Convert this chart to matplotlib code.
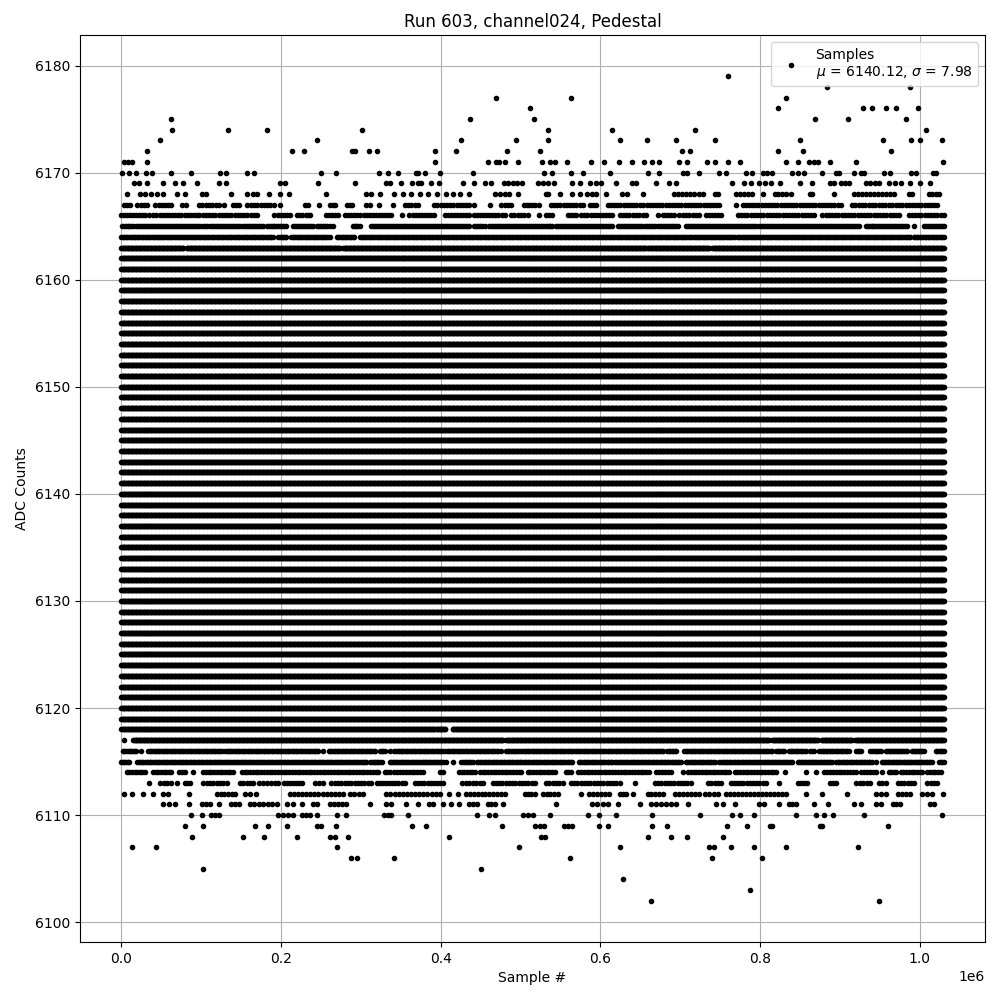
import numpy as np
import matplotlib
matplotlib.use("Agg")
import matplotlib.pyplot as plt

# ---------------- data (x positions in thousands of samples) ----------------
# Each level lists the runs of samples (start_k, end_k) where it is occupied;
# single values are isolated samples.
dense_levels = list(range(6119, 6163))      # levels occupied for the whole run
dense_run = (0, 1030)

sparse_levels = [6179, 6178, 6177, 6176, 6175, 6174, 6173, 6172, 6171, 6170,
                 6169, 6168, 6167, 6166, 6165, 6164, 6163,
                 6118, 6117, 6116, 6115, 6114, 6113, 6112, 6111, 6110,
                 6109, 6108, 6107, 6106, 6105, 6104, 6103, 6102]

# typical spacing (k-samples) between neighbouring samples inside a run
sparse_spacing = [6, 6, 6, 6, 6, 6, 6, 6, 6, 6,
                  6, 5, 4, 4, 2.5, 2, 1,
                  1, 1, 2, 2, 3.5, 4, 5, 6, 6,
                  6, 6, 6, 6, 6, 6, 6, 6]

sparse_runs = [
    [760],
    [884, 988],
    [469, 563, 832],
    [512, 822, 929, 940, 958, 970, 998],
    [62, 437, 517, 869, 910, 982],
    [64, 134, 182, 302, 534, 615, 719, 1008],
    [49, 245, 425, 494, 534, 624, 658, 695, 744, 850, 954, 989, 1000, 1028],
    [32, 214, 229, 289, 293, 310, 320, 393, 419, 483, 524, 702, 712, 822, 854, 964],
    [3, 8, 13, 33, 393, 459, 469, 473, 481, 497, 527, 537, 543, 558, 588, 605,
     623, 640, 654, 665, 673, 698, 708, 734, 743, 760, 775, 832, 847, 861, 868,
     872, 888, 920, 1029],
    [1, 10, 18, 31, 39, 63, 88, 124, 131, 157, 166, 250, 269, 323, 334, 347, 369,
     372, 380, 399, 440, 530, 539, 563, 578, 612, 659, 673, 703, 708, 724, 748,
     757, (782, 790), (803, 808), 815, (840, 847), 855, 877, (895, 899), 917,
     (926, 930), (955, 963), (989, 995), (1016, 1020)],
    [16, 22, 33, 52, 67, 78, 95, 122, 131, 199, 205, 247, 293, 332, 336, 350, 364,
     372, 376, 388, 398, 428, 442, 456, 463, 479, 484, 490, 495, 502, 522, 528,
     534, 542, 564, 575, 587, 595, 601, 620, 639, 645, 670, 686, 695, 765, 780,
     788, 798, 806, 813, 825, 850, 865, (888, 892), (901, 911), (932, 949),
     (961, 976), 988, 1000, 1013],
    [7, 23, 30, 38, 45, 52, 70, 80, 101, 106, 138, 157, 165, 170, 185, 199, 210,
     257, 307, 313, 324, 342, 353, 363, 374, 384, 395, 407, 415, 424, 435, 468,
     474, 480, 486, 497, 532, 535, 550, 564, 574, 583, 590, 595, 607, 627, 633,
     653, (692, 728), (743, 747), (770, 790), 804, (818, 832), 838, 862, 865, 893,
     (918, 968), 986, 990, (1011, 1024)],
    [(3, 11), (20, 33), (43, 63), (76, 81), (97, 123), 129, (140, 148), (158, 191),
     199, (230, 234), 248, (262, 268), (283, 289), (306, 311), 323, 340, (355, 372),
     (392, 436), 442, 462, (476, 488), (504, 518), 523, (538, 578), (587, 595),
     (609, 645), (650, 749), 770, (778, 901), (915, 965), (970, 1022)],
    [(0, 15), (19, 30), (35, 53), (56, 95), (98, 118), (122, 170), (192, 212),
     (220, 226), (231, 237), (257, 272), (280, 288), (292, 338), 351, (361, 392),
     (405, 436), (442, 480), (488, 509), 523, (532, 540), (559, 570), (576, 615),
     (624, 657), 672, (678, 692), (699, 724), (732, 751), (772, 868), (878, 974),
     (986, 1030)],
    [(1, 15), (18, 99), (103, 149), (153, 178), (182, 197), (199, 207), (215, 240),
     (245, 261), 265, (290, 299), (313, 436), (442, 455), (461, 540), (545, 615),
     (622, 668), (672, 697), (707, 795), (799, 924), (932, 984), 992, (1005, 1030)],
    [(0, 55), (57, 97), (99, 128), (130, 190), (197, 207), (213, 261), (270, 292),
     (299, 489), (491, 768), (772, 988), (992, 1030)],
    [(0, 78), (82, 274), (278, 657), (659, 736), (740, 1030)],
    [(0, 393), (395, 406), (415, 1030)],
    [4, (15, 478), (482, 811), (815, 872), (877, 915), (919, 1030)],
    [(2, 19), 25, (34, 126), (130, 247), 253, (260, 318), (324, 330), 336,
     (342, 403), (407, 472), 475, (482, 498), (501, 679), (684, 695), (705, 815),
     (820, 830), (836, 857), (863, 868), (874, 911), (920, 926), (938, 951),
     (957, 984), (990, 1005), (1020, 1030)],
    [(0, 10), (20, 307), (312, 326), (336, 403), 407, 415, (426, 440), (445, 565),
     (573, 615), (618, 701), (707, 743), (749, 840), (847, 890), (895, 940), 945,
     (952, 1015), (1024, 1030)],
    [(7, 30), (40, 63), (73, 80), 90, (103, 140), (151, 322), (330, 336),
     (342, 378), (399, 403), (423, 443), (449, 501), (509, 543), (557, 563),
     (572, 661), (669, 688), 704, (710, 761), (768, 820), 831, 857, 870,
     (880, 920), (926, 945), 952, (961, 970), (976, 1003), (1009, 1026)],
    [35, (49, 62), 70, (80, 86), (103, 132), (149, 165), (172, 182), (188, 197),
     (204, 226), (243, 253), (263, 313), (320, 355), (368, 403), (427, 453),
     (465, 518), (532, 553), (563, 624), 643, (668, 713), (735, 751), (763, 807),
     823, (847, 859), (888, 895), (920, 938), (949, 957), (972, 993), (1009, 1022)],
    [3, 14, 27, 40, (53, 59), 85, (120, 143), (155, 161), 169, (211, 278),
     (286, 303), (332, 399), 411, 422, (432, 480), (505, 518), (528, 547), 576,
     (586, 611), (624, 632), 641, (659, 678), (693, 718), 724, (731, 747),
     (757, 832), 857, 878, 909, (945, 957), (972, 988), (1003, 1015), 1029],
    [(53, 68), 85, (101, 111), 123, (138, 147), (161, 195), (208, 215), 226,
     (240, 245), (261, 282), 311, (332, 338), 357, 372, (385, 391), 403, 413, 423,
     (436, 445), (459, 468), 478, 545, (590, 609), 622, 649, (663, 695), 710,
     (745, 753), 768, (799, 805), 823, (836, 845), 868, 885, (918, 926),
     (945, 951), (966, 975), (1013, 1018)],
    [87, 101, (113, 122), (197, 215), (226, 236), 245, 270, 282, (329, 338), 359,
     445, (461, 468), (503, 515), 537, 584, 598, 620, 665, 725, 765, 775, 792,
     845, 870, 880, 891, 930, 1028],
    [80, 103, 168, 184, 208, (245, 250), 269, 364, 382, 477, (518, 530),
     (555, 565), 598, 610, 665, 683, 758, 783, (812, 815), (875, 878), 960],
    [89, 152, 179, 220, 261, 268, 284, 410, 526, 531, 660, 688, 708, 754],
    [13, 44, 270, 498, 624, 736, 742, 764, 792, 832, 923],
    [288, 295, 342, 562, 740, 802],
    [103, 450],
    [628],
    [787],
    [663, 949],
]

mu_value = 6140.12
sigma_value = 7.98
title_text = "Run 603, channel024, Pedestal"


def expand(level, runs, spacing):
    xs = []
    for r in runs:
        if isinstance(r, tuple):
            a, b = r
            n = max(2, int(round((b - a) / spacing)) + 1)
            xs.append(np.linspace(a, b, n))
        else:
            xs.append(np.array([float(r)]))
    x = np.concatenate(xs) * 1000.0
    return x, np.full_like(x, level)


all_x, all_y = [], []
for lv in dense_levels:
    x, y = expand(lv, [dense_run], 1.0)
    all_x.append(x)
    all_y.append(y)
for lv, runs, sp in zip(sparse_levels, sparse_runs, sparse_spacing):
    x, y = expand(lv, runs, sp)
    all_x.append(x)
    all_y.append(y)
all_x = np.concatenate(all_x)
all_y = np.concatenate(all_y)

fig, ax = plt.subplots(figsize=(10, 10), dpi=100)
ax.plot(all_x, all_y, '.', color='black', linestyle='none',
        label="Samples\n$\\mu$ = %.2f, $\\sigma$ = %.2f" % (mu_value, sigma_value))
ax.set_title(title_text)
ax.set_xlabel("Sample #")
ax.set_ylabel("ADC Counts")
ax.grid(True)
ax.legend(loc='upper right')
fig.subplots_adjust(left=0.08, right=0.985, top=0.965, bottom=0.058)
fig.savefig("out.png", dpi=100)
